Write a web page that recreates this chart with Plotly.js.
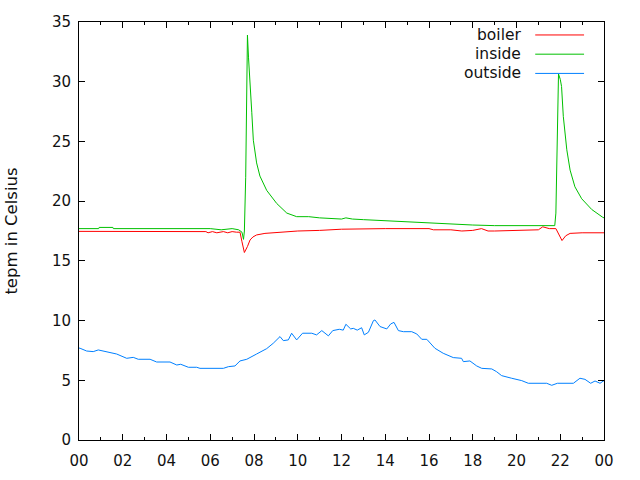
<!DOCTYPE html>
<html>
<head>
<meta charset="utf-8">
<script src="https://cdn.plot.ly/plotly-3.0.1.min.js"></script>
<style>
  html, body { margin: 0; padding: 0; background: #fff; }
  #chart { width: 640px; height: 480px; }
</style>
</head>
<body>
<div id="chart"></div>
<script>
// hours of day
const boilerHours = [0, 5.5, 5.8, 5.9, 6.1, 6.3, 6.6, 6.8, 7.0, 7.2, 7.36, 7.45, 7.56, 7.7, 7.82, 7.95, 8.12, 8.5, 9.2, 10, 11, 12, 14, 16, 16.2, 17, 17.5, 18, 18.4, 18.7, 19, 20, 20.5, 21, 21.2, 21.5, 21.8, 21.95, 22.08, 22.25, 22.45, 23, 24];
const boilerTemp = [17.47, 17.47, 17.45, 17.35, 17.45, 17.35, 17.45, 17.35, 17.45, 17.4, 17.4, 16.6, 15.7, 16.2, 16.75, 17.0, 17.17, 17.3, 17.4, 17.5, 17.55, 17.65, 17.7, 17.7, 17.6, 17.6, 17.5, 17.55, 17.7, 17.5, 17.5, 17.55, 17.6, 17.6, 17.85, 17.7, 17.7, 17.2, 16.7, 17.1, 17.3, 17.35, 17.35];

const insideHours = [0, 0.9, 0.92, 1.55, 1.57, 5.44, 5.46, 6.0, 6.5, 7.0, 7.3, 7.45, 7.52, 7.56, 7.62, 7.66, 7.70, 7.75, 7.82, 7.9, 7.97, 8.12, 8.27, 8.58, 9.04, 9.5, 9.95, 10.5, 11.0, 11.5, 12.0, 12.2, 12.5, 13, 14, 15, 16, 17, 18, 19, 20, 21, 21.5, 21.75, 21.8, 21.86, 21.92, 22.0, 22.06, 22.14, 22.3, 22.45, 22.67, 22.98, 23.44, 23.94, 24];
const insideTemp = [17.7, 17.7, 17.8, 17.8, 17.7, 17.7, 17.65, 17.7, 17.6, 17.7, 17.6, 17.4, 16.8, 17.5, 22, 30, 33.9, 32, 30.2, 27.4, 25.1, 23.2, 22.1, 20.9, 19.8, 19.0, 18.7, 18.7, 18.6, 18.55, 18.5, 18.6, 18.5, 18.45, 18.35, 18.25, 18.15, 18.05, 18.0, 17.95, 17.95, 17.95, 17.95, 17.95, 19, 25.5, 30.65, 30.2, 29.6, 27.1, 24.3, 22.6, 21.2, 20.2, 19.3, 18.65, 18.6];

const outsideHours = [0, 0.05, 0.35, 0.65, 0.88, 1.04, 1.34, 1.72, 2.18, 2.48, 2.71, 3.25, 3.55, 4.16, 4.47, 4.65, 5.0, 5.38, 5.53, 6.6, 6.83, 7.13, 7.36, 7.67, 8.12, 8.58, 8.88, 9.19, 9.34, 9.57, 9.72, 9.95, 10.22, 10.64, 10.86, 11.1, 11.4, 11.6, 11.9, 12.08, 12.2, 12.42, 12.54, 12.72, 12.92, 13.04, 13.23, 13.46, 13.53, 13.76, 14.07, 14.25, 14.4, 14.6, 14.83, 15.21, 15.44, 15.67, 15.9, 16.27, 16.65, 17.11, 17.49, 17.57, 17.87, 18.18, 18.41, 18.87, 19.09, 19.32, 19.78, 20.24, 20.54, 21.38, 21.61, 21.87, 22.6, 22.9, 23.13, 23.39, 23.59, 23.82, 23.97, 24];
const outsideTemp = [7.7, 7.68, 7.45, 7.4, 7.54, 7.48, 7.31, 7.2, 6.84, 6.92, 6.76, 6.76, 6.53, 6.53, 6.28, 6.34, 6.09, 6.09, 6.0, 6.0, 6.14, 6.2, 6.62, 6.76, 7.2, 7.65, 8.1, 8.66, 8.32, 8.38, 8.94, 8.38, 8.94, 8.94, 8.8, 9.16, 8.72, 9.16, 9.27, 9.2, 9.69, 9.3, 9.35, 9.2, 9.4, 8.8, 9.02, 10.0, 10.05, 9.5, 9.3, 9.72, 9.85, 9.16, 9.07, 9.07, 8.88, 8.43, 8.43, 7.68, 7.26, 6.9, 6.84, 6.56, 6.62, 6.2, 6.0, 5.95, 5.72, 5.39, 5.17, 4.97, 4.75, 4.75, 4.58, 4.75, 4.75, 5.17, 5.08, 4.75, 4.94, 4.75, 4.94, 4.94];

const hourTicks = [0, 2, 4, 6, 8, 10, 12, 14, 16, 18, 20, 22, 24];
const hourLabels = ['00', '02', '04', '06', '08', '10', '12', '14', '16', '18', '20', '22', '00'];

const seriesNames = ['boiler', 'inside', 'outside'];
const seriesColors = ['#ff0000', '#00c000', '#0080ff'];

const traces = [
    {x: boilerHours, y: boilerTemp},
    {x: insideHours, y: insideTemp},
    {x: outsideHours, y: outsideTemp}
].map((d, i) => ({
    type: 'scatter',
    mode: 'lines',
    name: seriesNames[i],
    x: d.x,
    y: d.y,
    line: {color: seriesColors[i], width: 1},
    showlegend: false
}));

// gnuplot style key: label on the left, line sample on the right
const keyY = [0.969, 0.923, 0.877];
const annotations = seriesNames.map((name, i) => ({
    xref: 'paper', yref: 'paper',
    x: 0.846, y: keyY[i],
    xanchor: 'right', yanchor: 'middle',
    text: name, showarrow: false,
    font: {family: 'DejaVu Sans', size: 15.5, color: '#111'}
}));
const shapes = seriesNames.map((name, i) => ({
    type: 'line', xref: 'paper', yref: 'paper',
    x0: 0.869, x1: 0.962, y0: keyY[i], y1: keyY[i],
    line: {color: seriesColors[i], width: 1}
}));

const layout = {
    width: 640,
    height: 480,
    margin: {l: 79, r: 36, t: 22, b: 40, pad: 0},
    paper_bgcolor: '#fff',
    plot_bgcolor: '#fff',
    font: {family: 'DejaVu Sans', size: 15, color: '#111'},
    xaxis: {
        range: [0, 24],
        tickmode: 'array',
        tickvals: hourTicks,
        ticktext: hourLabels,
        ticks: 'inside',
        ticklen: 6,
        tickcolor: '#000',
        ticklabelstandoff: 7,
        minor: {dtick: 1, ticks: 'inside', ticklen: 3, tickcolor: '#000'},
        showline: true,
        linecolor: '#000',
        linewidth: 1,
        mirror: 'ticks',
        showgrid: false,
        zeroline: false
    },
    yaxis: {
        range: [0, 35],
        dtick: 5,
        ticks: 'inside',
        ticklen: 6,
        tickcolor: '#000',
        ticklabelstandoff: 4,
        showline: true,
        linecolor: '#000',
        linewidth: 1,
        mirror: 'ticks',
        showgrid: false,
        zeroline: false,
        title: {text: 'tepm in Celsius', standoff: 30, font: {size: 16.5}}
    },
    annotations: annotations,
    shapes: shapes
};

Plotly.newPlot('chart', traces, layout, {displayModeBar: false, staticPlot: true});
</script>
</body>
</html>
